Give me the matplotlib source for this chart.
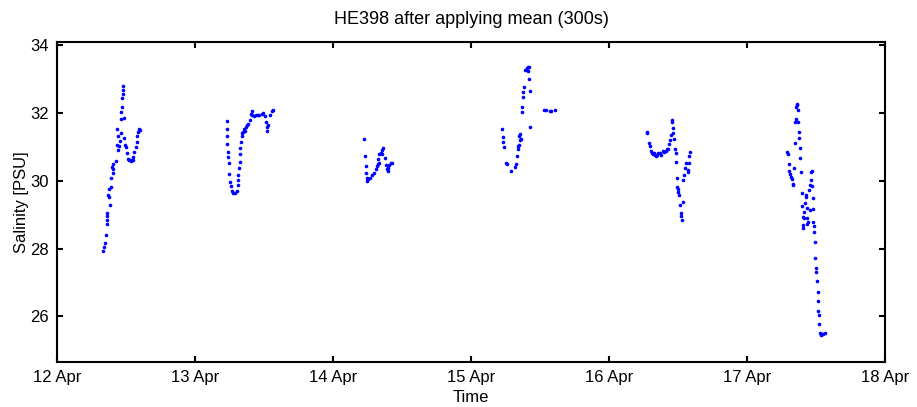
import numpy as np
import matplotlib
matplotlib.use("Agg")
import matplotlib.pyplot as plt

plt.rcParams['font.family'] = ['Liberation Sans', 'DejaVu Sans']

# time in days after 12 Apr 00:00, salinity in PSU
t_12 = [0.331, 0.340, 0.348, 0.353, 0.360, 0.364, 0.364, 0.360, 0.384, 0.377,
        0.372, 0.389, 0.377, 0.391, 0.404, 0.408, 0.399, 0.408, 0.428, 0.444,
        0.433, 0.452, 0.457, 0.444, 0.462, 0.437, 0.462, 0.488, 0.466, 0.469,
        0.474, 0.479, 0.481, 0.481, 0.488, 0.495, 0.501, 0.506, 0.517, 0.530,
        0.542, 0.554, 0.561, 0.573, 0.578, 0.581, 0.586, 0.595, 0.603, 0.524,
        0.536, 0.548]
s_12 = [27.93, 28.05, 28.17, 28.39, 28.74, 28.84, 28.96, 29.06, 29.29, 29.53,
        29.58, 29.83, 29.77, 30.08, 30.22, 30.34, 30.42, 30.50, 30.60, 30.91,
        31.06, 31.03, 31.18, 31.31, 31.41, 31.53, 31.82, 31.85, 32.03, 32.19,
        32.45, 32.57, 32.69, 32.81, 31.26, 31.06, 30.99, 30.82, 30.64, 30.62,
        30.62, 30.70, 30.86, 30.99, 31.16, 31.31, 31.43, 31.53, 31.51, 30.62,
        30.60, 30.63]

t_13 = [1.229, 1.231, 1.233, 1.233, 1.236, 1.241, 1.246, 1.248, 1.253, 1.258,
        1.265, 1.277, 1.289, 1.302, 1.309, 1.313, 1.313, 1.321, 1.326, 1.326,
        1.328, 1.331, 1.338, 1.343, 1.350, 1.357, 1.362, 1.370, 1.379, 1.386,
        1.397, 1.406, 1.411, 1.415, 1.428, 1.440, 1.455, 1.466, 1.484, 1.496,
        1.508, 1.515, 1.520, 1.525, 1.532, 1.544, 1.557, 1.568]
s_13 = [31.77, 31.54, 31.31, 31.09, 30.86, 30.69, 30.52, 30.20, 29.98, 29.85,
        29.71, 29.65, 29.65, 29.71, 29.88, 30.03, 30.17, 30.37, 30.57, 30.79,
        30.98, 31.16, 31.31, 31.41, 31.45, 31.53, 31.48, 31.60, 31.65, 31.68,
        31.80, 31.98, 32.05, 31.95, 31.90, 31.95, 31.93, 31.95, 31.98, 32.00,
        31.90, 31.75, 31.60, 31.48, 31.65, 31.95, 32.05, 32.10]

t_14 = [2.226, 2.231, 2.236, 2.239, 2.244, 2.248, 2.255, 2.268, 2.284, 2.297,
        2.309, 2.317, 2.324, 2.333, 2.328, 2.333, 2.346, 2.353, 2.365, 2.353,
        2.377, 2.382, 2.389, 2.397, 2.401, 2.408, 2.421, 2.430]
s_14 = [31.23, 30.74, 30.44, 30.22, 30.08, 30.00, 30.05, 30.08, 30.17, 30.24,
        30.34, 30.44, 30.49, 30.52, 30.64, 30.79, 30.83, 30.91, 30.96, 30.80,
        30.67, 30.47, 30.34, 30.30, 30.37, 30.47, 30.52, 30.52]

t_15 = [3.226, 3.231, 3.234, 3.239, 3.253, 3.261, 3.287, 3.319, 3.326, 3.336,
        3.339, 3.343, 3.348, 3.355, 3.362, 3.350, 3.355, 3.430, 3.368, 3.372,
        3.375, 3.379, 3.382, 3.423, 3.394, 3.404, 3.408, 3.416, 3.423, 3.411,
        3.428, 3.532, 3.542, 3.574, 3.581, 3.610]
s_15 = [31.53, 31.29, 31.16, 31.01, 30.54, 30.49, 30.29, 30.40, 30.49, 30.74,
        30.93, 31.03, 31.06, 31.21, 31.24, 31.31, 31.39, 31.60, 32.02, 32.17,
        32.49, 32.62, 32.77, 33.01, 33.26, 33.28, 33.33, 33.36, 33.35, 33.23,
        32.65, 32.10, 32.10, 32.07, 32.05, 32.10]

t_16 = [4.273, 4.277, 4.292, 4.297, 4.302, 4.309, 4.317, 4.326, 4.333, 4.341,
        4.350, 4.357, 4.370, 4.377, 4.389, 4.401, 4.414, 4.423, 4.430, 4.438,
        4.443, 4.450, 4.457, 4.460, 4.462, 4.467, 4.472, 4.479, 4.484, 4.489,
        4.491, 4.496, 4.499, 4.503, 4.510, 4.515, 4.521, 4.525, 4.530, 4.535,
        4.539, 4.545, 4.552, 4.559, 4.569, 4.576, 4.581, 4.583, 4.588]
s_16 = [31.41, 31.45, 31.11, 31.04, 30.89, 30.82, 30.79, 30.82, 30.77, 30.72,
        30.77, 30.82, 30.83, 30.77, 30.89, 30.86, 30.89, 30.93, 30.93, 31.09,
        31.21, 31.36, 31.80, 31.75, 31.57, 31.41, 31.23, 30.93, 30.83, 30.57,
        30.08, 29.81, 29.75, 29.68, 29.58, 29.29, 29.04, 28.96, 28.84, 29.38,
        30.03, 30.17, 30.37, 30.52, 30.32, 30.27, 30.52, 30.74, 30.85]

t_17 = [5.360, 5.365, 5.355, 5.370, 5.355, 5.350, 5.372, 5.377, 5.379, 5.348,
        5.384, 5.292, 5.297, 5.384, 5.302, 5.343, 5.307, 5.392, 5.312, 5.317,
        5.324, 5.331, 5.336, 5.465, 5.470, 5.462, 5.457, 5.470, 5.452, 5.397,
        5.426, 5.428, 5.477, 5.421, 5.401, 5.433, 5.416, 5.457, 5.477, 5.404,
        5.414, 5.438, 5.445, 5.433, 5.409, 5.404, 5.481, 5.486, 5.489, 5.494,
        5.496, 5.501, 5.501, 5.506, 5.511, 5.513, 5.518, 5.521, 5.525, 5.530,
        5.535, 5.543, 5.554, 5.567]
s_17 = [32.27, 32.25, 32.17, 32.09, 31.82, 31.73, 31.73, 31.44, 31.26, 31.11,
        30.96, 30.86, 30.80, 30.67, 30.50, 30.37, 30.29, 30.27, 30.19, 30.12,
        30.05, 29.90, 29.88, 30.27, 30.29, 30.03, 29.88, 29.85, 29.73, 29.65,
        29.58, 29.53, 29.50, 29.34, 29.26, 29.19, 29.09, 29.14, 29.16, 28.94,
        28.89, 28.89, 28.79, 28.74, 28.69, 28.61, 28.79, 28.67, 28.48, 28.18,
        27.71, 27.43, 27.31, 27.04, 26.72, 26.44, 26.15, 26.05, 25.78, 25.52,
        25.46, 25.48, 25.49, 25.51]

day_labels = ["12 Apr", "13 Apr", "14 Apr", "15 Apr", "16 Apr", "17 Apr", "18 Apr"]
sal_ticks = [26, 28, 30, 32, 34]

fig = plt.figure(figsize=(9.17, 4.07), dpi=100)
ax = fig.add_axes([57/917, 1 - 362/407, (885 - 57)/917, (362 - 42)/407])

for t, s in [(t_12, s_12), (t_13, s_13), (t_14, s_14),
             (t_15, s_15), (t_16, s_16), (t_17, s_17)]:
    ax.plot(t, s, 'o', color='#0000ff', markersize=2.6, markeredgewidth=0)

ax.set_xlim(0, 6)
ax.set_ylim(24.65, 34.1)
ax.set_xticks(range(len(day_labels)))
ax.set_xticklabels(day_labels)
ax.set_yticks(sal_ticks)

for sp in ax.spines.values():
    sp.set_linewidth(1.5)
ax.tick_params(direction='in', top=True, right=True, length=4, width=1.5,
               labelsize=12, pad=6)

ax.set_xlabel("Time", fontsize=12, labelpad=3)
ax.set_ylabel("Salinity [PSU]", fontsize=12, labelpad=1)
ax.set_title("HE398 after applying mean (300s)", fontsize=13, pad=13)

fig.savefig("out.png", dpi=100)
